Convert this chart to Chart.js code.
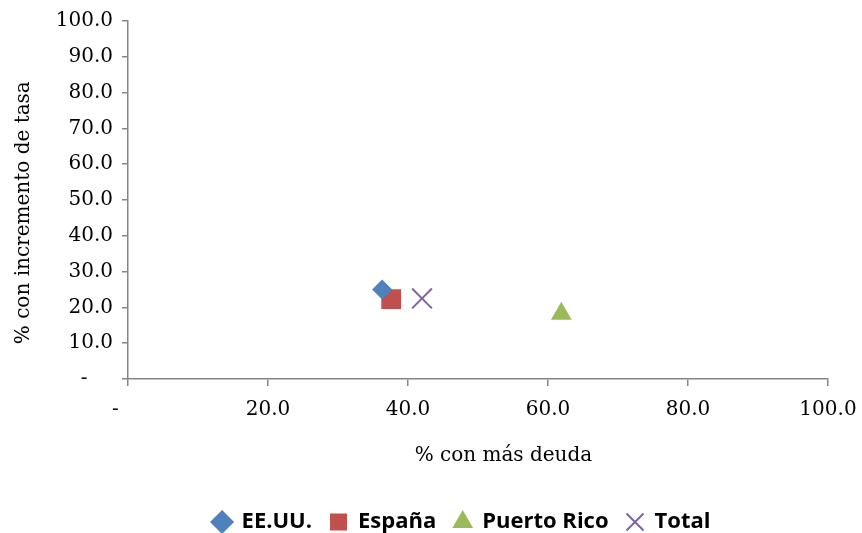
<!DOCTYPE html>
<html>
<head>
<meta charset="utf-8">
<script src="https://cdn.jsdelivr.net/npm/chart.js@4/dist/chart.umd.min.js"></script>
<style>
  html, body { margin: 0; padding: 0; background: #fff; }
  #wrap { width: 862px; height: 533px; }
</style>
</head>
<body>
<div id="wrap"><canvas id="scatter"></canvas></div>
<script>
// datos
const seriesNames = ["EE.UU.", "España", "Puerto Rico", "Total"];
const debtPct = [36.3, 37.6, 61.9, 42.0];          // % con más deuda
const rateIncreasePct = [25.0, 22.3, 18.2, 22.5];  // % con incremento de tasa
const colors = ["#4F81BD", "#C0504D", "#9BBB59", "#8064A2"];
const markers = ["rectRot", "rect", "triangle", "crossRot"];
const markerSizes = [10, 14, 12, 14];

const axisFont = { family: "'DejaVu Serif', 'Liberation Serif', serif", size: 20 };
const axisColor = "#868686";

function fmt(v) {
  // formato contable: cero se muestra como guion
  return v === 0 ? "-    " : v.toFixed(1);
}

const datasets = seriesNames.map(function (name, i) {
  const isCross = markers[i] === "crossRot";
  return {
    label: name,
    data: [{ x: debtPct[i], y: rateIncreasePct[i] }],
    pointStyle: markers[i],
    pointRadius: markerSizes[i],
    pointHoverRadius: markerSizes[i],
    backgroundColor: colors[i],
    borderColor: colors[i],
    borderWidth: isCross ? 2 : 0
  };
});

// ajusta la posicion de la leyenda, como en el original
const legendShift = {
  id: "legendShift",
  afterLayout: function (chart) {
    const lg = chart.legend;
    if (!lg) return;
    lg.left -= 16;
    lg.right -= 16;
    lg.top += 10;
    lg.bottom += 10;
  }
};

const ctx = document.getElementById("scatter").getContext("2d");
new Chart(ctx, {
  type: "scatter",
  data: { datasets: datasets },
  plugins: [legendShift],
  options: {
    responsive: true,
    maintainAspectRatio: false,
    animation: false,
    layout: { padding: { left: 0, top: 20, right: 34, bottom: 0 } },
    scales: {
      x: {
        type: "linear",
        min: 0,
        max: 100,
        ticks: { stepSize: 20, callback: fmt, font: axisFont, color: "#000", padding: 12, maxRotation: 0 },
        grid: { display: true, drawOnChartArea: false, drawTicks: true, tickLength: 7, color: axisColor, lineWidth: 1.5 },
        border: { display: true, color: axisColor, width: 1.5 },
        title: { display: true, text: "        % con más deuda", font: axisFont, color: "#000", padding: { top: 10, bottom: 15 } },
        afterFit: function (scale) { scale.paddingRight = 0; scale.paddingLeft = 0; }
      },
      y: {
        type: "linear",
        min: 0,
        max: 100,
        ticks: { stepSize: 10, callback: fmt, font: axisFont, color: "#000", padding: 9 },
        grid: { display: true, drawOnChartArea: false, drawTicks: true, tickLength: 6, color: axisColor, lineWidth: 1.5 },
        border: { display: true, color: axisColor, width: 1.5 },
        title: { display: true, text: "% con incremento de tasa    ", font: axisFont, color: "#000", padding: { top: 12, bottom: 0 } },
        afterFit: function (scale) { scale.width = 128; }
      }
    },
    plugins: {
      legend: {
        position: "bottom",
        fullSize: false,
        labels: {
          usePointStyle: true,
          boxWidth: 17,
          boxHeight: 17,
          padding: 18,
          color: "#000",
          font: { family: "'Open Sans', Lato, sans-serif", size: 22, weight: "bold" }
        }
      },
      tooltip: { enabled: false }
    }
  }
});
</script>
</body>
</html>
